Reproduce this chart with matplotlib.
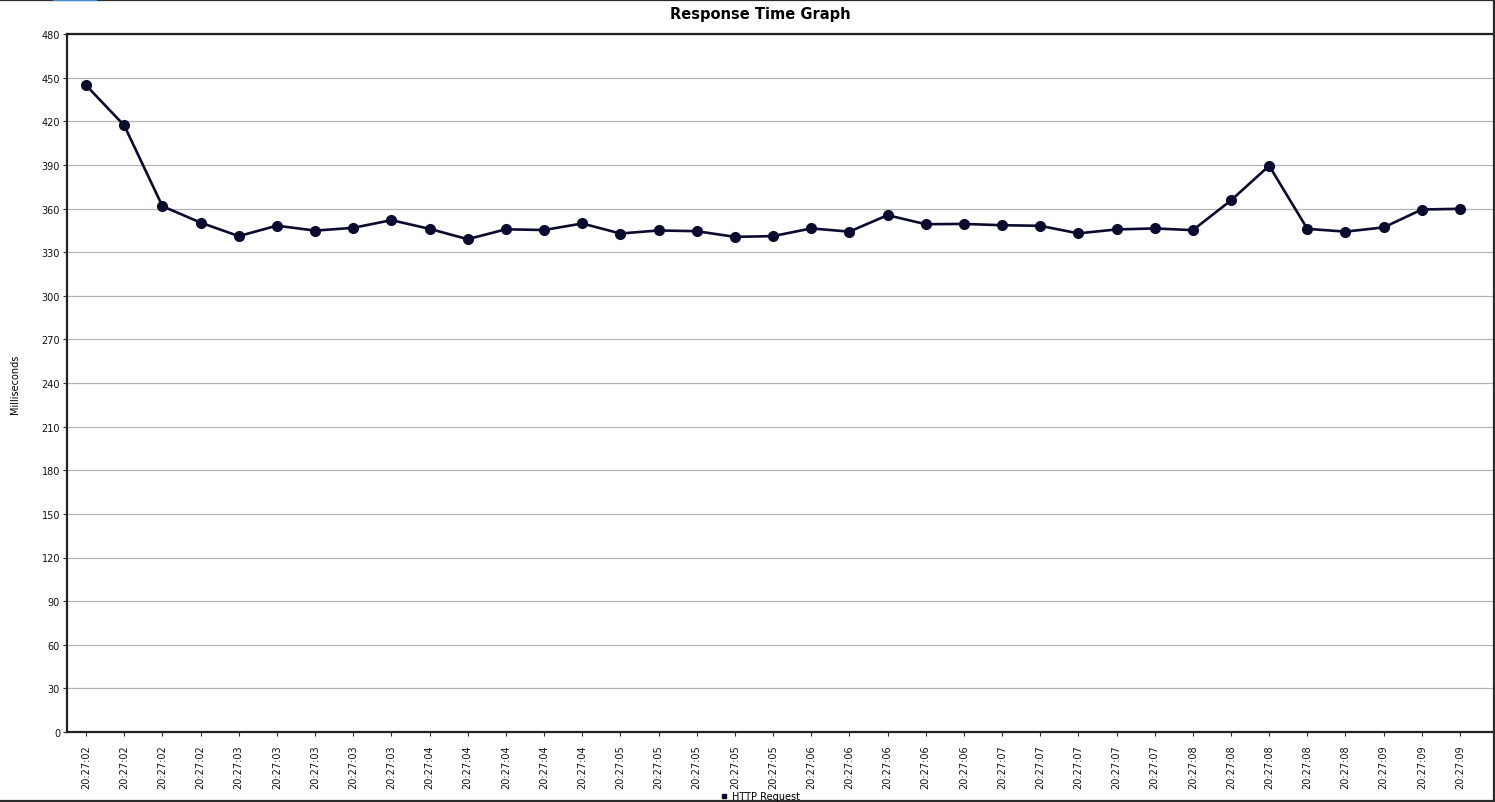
"""
Response time graph (JMeter style) recreated with matplotlib
"""

import matplotlib

matplotlib.use("Agg")
import matplotlib.pyplot as plt
from matplotlib.lines import Line2D

# --- data ---
time_labels = (
    ["20:27:02"] * 4
    + ["20:27:03"] * 5
    + ["20:27:04"] * 5
    + ["20:27:05"] * 5
    + ["20:27:06"] * 5
    + ["20:27:07"] * 5
    + ["20:27:08"] * 5
    + ["20:27:09"] * 3
)
response_ms = [
    444.7, 417.1, 361.6, 350.3, 341.0, 348.2, 344.8, 346.7, 352.0,
    346.0, 338.9, 345.7, 345.2, 349.7, 342.8, 344.9, 344.4, 340.5,
    341.0, 346.3, 344.1, 355.4, 349.2, 349.4, 348.5, 348.1, 342.9,
    345.6, 346.3, 345.1, 365.6, 389.4, 346.0, 344.1, 347.0, 359.3,
    359.8,
]
y_ticks = list(range(0, 481, 30))
series_name = "HTTP Request"

W, H = 1495, 803
fig = plt.figure(figsize=(W / 100, H / 100), dpi=100)
fig.patch.set_facecolor("white")

# axes box in pixel terms: left 67, right 1493, top 35, bottom 733
ax = fig.add_axes([67 / W, 1 - 733 / H, (1493 - 67) / W, (733 - 35) / H])

line_color = "#0b0b30"
xs = list(range(len(response_ms)))
ax.plot(xs, response_ms, color=line_color, linewidth=1.9, marker="o",
        markersize=7, zorder=3)

ax.set_xlim(-0.5, len(xs) - 1 + 0.865)
ax.set_ylim(0, 480)
ax.set_yticks(y_ticks)
ax.set_yticklabels([str(v) for v in y_ticks], fontsize=7, color="#111111")
ax.set_xticks(xs)
ax.set_xticklabels(time_labels, rotation=90, fontsize=7, color="#111111")
ax.tick_params(axis="both", length=3, width=0.8, color="#333333", pad=2)
ax.tick_params(axis="x", pad=6)

ax.yaxis.grid(True, color="#b4b4b4", linewidth=0.9)
ax.set_axisbelow(True)

for side in ["left", "bottom", "top"]:
    ax.spines[side].set_linewidth(1.6)
    ax.spines[side].set_color("#222222")
ax.spines["right"].set_visible(False)

ax.set_ylabel("Milliseconds", fontsize=7)
ax.yaxis.set_label_coords(-0.033, 0.5)

fig.text(760 / W, 1 - 15 / H, "Response Time Graph", ha="center",
         va="center", fontsize=10.5, fontweight="bold")

# legend at the bottom, clipped by the window edge
handle = Line2D([], [], color=line_color, marker="s", linestyle="none",
                markersize=3)
fig.legend([handle], [series_name], loc="center",
           bbox_to_anchor=(760 / W, 1 - 797 / H), frameon=False,
           fontsize=7, handletextpad=0.4, handlelength=0.8)

# window frame lines (top, right, bottom) and small blue tab
frame_color = "#2b2b2b"
fig.add_artist(Line2D([0, 1], [1 - 0.8 / H, 1 - 0.8 / H], color=frame_color,
                      linewidth=1.6, transform=fig.transFigure))
fig.add_artist(Line2D([0, 1], [1.2 / H, 1.2 / H], color=frame_color,
                      linewidth=1.6, transform=fig.transFigure))
fig.add_artist(Line2D([1 - 1.2 / W, 1 - 1.2 / W], [0, 1], color=frame_color,
                      linewidth=1.6, transform=fig.transFigure))
fig.add_artist(Line2D([54 / W, 96 / W], [1 - 0.8 / H, 1 - 0.8 / H],
                      color="#3a8fd0", linewidth=1.6,
                      transform=fig.transFigure))

fig.savefig("out.png", dpi=100)
